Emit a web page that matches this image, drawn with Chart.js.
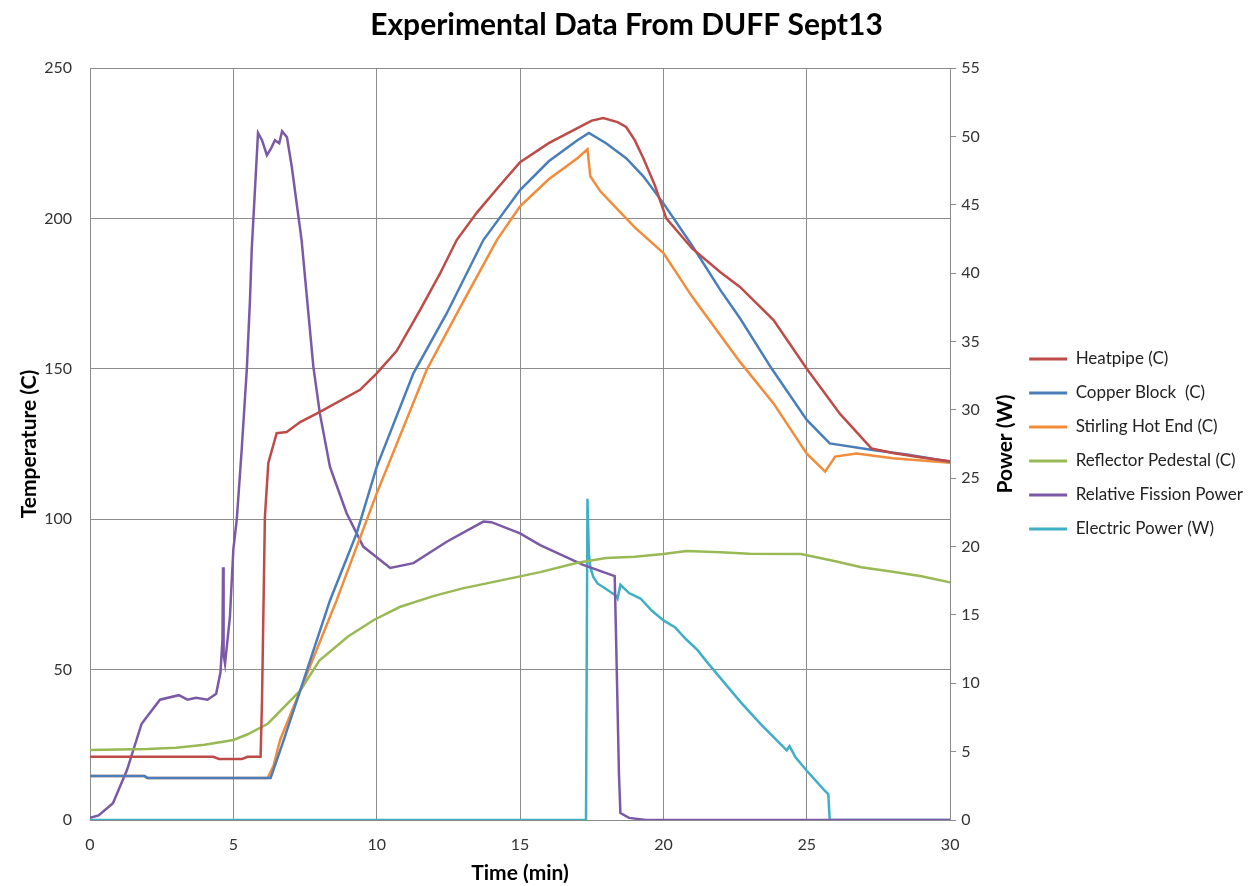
<!DOCTYPE html>
<html>
<head>
<meta charset="utf-8">
<title>Experimental Data From DUFF Sept13</title>
<script src="https://cdn.jsdelivr.net/npm/chart.js@4.4.1/dist/chart.umd.min.js"></script>
<style>
  html, body { margin: 0; padding: 0; background: #fff; }
</style>
</head>
<body>
<canvas id="chart" width="1253" height="886"></canvas>
<script>
// time axis (min) and values, one pair of arrays per series
const heatpipeT = [0, 2, 4.3, 4.5, 5.3, 5.5, 5.95, 6.0, 6.1, 6.22, 6.51, 6.86, 7.33, 8.02, 9.42, 10, 10.7, 11.51, 12.21, 12.79, 13.5, 14.3, 15, 16, 17, 17.5, 17.9, 18.4, 18.7, 19.0, 19.3, 19.7, 20.1, 21, 22, 22.67, 23.84, 25, 26.16, 27.26, 28, 29, 30];
const heatpipeC = [21, 21, 21, 20.3, 20.3, 21, 21, 40, 100.8, 118.7, 128.6, 129, 132.3, 135.7, 143, 148.5, 156, 169.5, 181.7, 192.8, 202, 211, 218.7, 225, 230, 232.5, 233.4, 232, 230.4, 226, 220, 211, 200, 190, 182, 177.2, 166.2, 150, 135, 123.5, 122, 120.5, 119.3];

const copperT = [0, 1.9, 2.0, 6.3, 6.7, 7.33, 8.37, 9.3, 10, 11.28, 12.44, 13.72, 15, 16, 17, 17.4, 18, 18.7, 19.3, 20, 21, 22, 22.67, 23.78, 25, 25.8, 27.3, 28.5, 30];
const copperC = [14.6, 14.6, 14, 14, 25, 43, 73, 95.3, 117.4, 148.5, 168.4, 192.8, 209.4, 219, 226, 228.4, 225, 220, 214, 205, 191, 176, 166.8, 150, 133, 125.2, 123, 121.5, 119.1];

const stirlingT = [0, 1.9, 2.0, 6.2, 6.4, 6.63, 7.33, 8.6, 10, 11.74, 13, 14.19, 15, 16, 17, 17.35, 17.45, 17.8, 18.5, 19, 20, 21, 22, 22.67, 23.84, 25, 25.64, 25.99, 26.74, 28, 30];
const stirlingC = [14.6, 14.6, 14, 14, 18, 26.6, 43, 73, 108.6, 149.6, 172, 192.8, 204, 213, 220, 223, 214, 209, 202, 197, 188.5, 174, 161, 152.3, 138.5, 121.8, 115.8, 120.8, 121.8, 120.3, 118.8];

const pedestalT = [0, 2, 3, 4, 5, 5.5, 6.2, 7.33, 8, 9, 9.9, 10.8, 12, 13, 14, 15, 15.7, 17, 18, 19, 20, 20.8, 22, 23, 24.8, 26, 26.9, 28, 29, 30];
const pedestalC = [23.3, 23.6, 24, 25, 26.6, 28.5, 32, 43, 53, 61, 66.5, 70.8, 74.5, 77, 79, 81, 82.4, 85.5, 87.1, 87.5, 88.4, 89.4, 89, 88.5, 88.4, 86, 84, 82.5, 81, 79];

const fissionT = [0, 0.3, 0.8, 1.29, 1.8, 2.44, 3.1, 3.4, 3.7, 4.1, 4.4, 4.55, 4.62, 4.64, 4.66, 4.71, 4.88, 5.0, 5.12, 5.29, 5.47, 5.58, 5.64, 5.86, 6.0, 6.17, 6.3, 6.45, 6.6, 6.7, 6.87, 7.04, 7.38, 7.79, 8.02, 8.37, 8.95, 9.53, 10.47, 11.28, 12.44, 13.72, 14, 15, 15.7, 17.2, 18.3, 18.35, 18.45, 18.5, 18.8, 19.4, 30];
const fissionRel = [0.7, 1.5, 5.6, 16.6, 32, 40, 41.5, 40, 40.6, 40, 42, 49, 60, 84, 55, 52, 67.5, 90, 100, 123, 150, 173, 189.5, 228.4, 226, 221, 223, 226, 225, 229, 227, 217, 192.8, 150.7, 135, 117.4, 102, 90.9, 83.8, 85.4, 92.5, 99.2, 99, 95.3, 91.4, 84.8, 81.1, 60, 15, 2.3, 0.7, 0, 0];

const electricT = [0, 17.3, 17.35, 17.4, 17.45, 17.55, 17.7, 18.0, 18.35, 18.4, 18.5, 18.8, 19.2, 19.6, 20, 20.4, 20.8, 21.2, 21.5, 22.1, 22.7, 23.4, 24.3, 24.4, 24.6, 25, 25.6, 25.75, 25.8, 30];
const electricW = [0, 0, 23.5, 19.5, 18.5, 17.8, 17.3, 16.9, 16.4, 16.2, 17.2, 16.6, 16.2, 15.3, 14.6, 14.1, 13.2, 12.4, 11.6, 10.1, 8.6, 7.0, 5.1, 5.4, 4.6, 3.6, 2.2, 1.9, 0, 0];

const pts = (xs, ys) => xs.map((x, i) => ({ x, y: ys[i] }));

const FONT = 'Lato';
const GRID = '#8c8c8c';
const TICK = '#333';

const line = (label, xs, ys, color, axis) => ({
  label,
  data: pts(xs, ys),
  borderColor: color,
  backgroundColor: color,
  borderWidth: 2.5,
  pointRadius: 0,
  tension: 0,
  yAxisID: axis
});

// the right axis title reads bottom-to-top in the reference, so draw it here
const rightTitle = {
  id: 'rightTitle',
  afterDraw(chart) {
    const s = chart.scales.y2;
    const c = chart.ctx;
    c.save();
    c.translate(s.left + 55, (s.top + s.bottom) / 2);
    c.rotate(-Math.PI / 2);
    c.font = `bold 21px ${FONT}`;
    c.fillStyle = '#000';
    c.textAlign = 'center';
    c.textBaseline = 'middle';
    c.fillText('Power (W)', 0, 0);
    c.restore();
  }
};

const ctx = document.getElementById('chart').getContext('2d');

// eslint-disable-next-line no-undef
new Chart(ctx, {
  type: 'line',
  data: {
    datasets: [
      line('Heatpipe (C)', heatpipeT, heatpipeC, '#BE4B48', 'y'),
      line('Copper Block  (C)', copperT, copperC, '#4A7EBB', 'y'),
      line('Stirling Hot End (C)', stirlingT, stirlingC, '#F28C3A', 'y'),
      line('Reflector Pedestal (C)', pedestalT, pedestalC, '#98B954', 'y'),
      line('Relative Fission Power', fissionT, fissionRel, '#7A5AA6', 'y'),
      line('Electric Power (W)', electricT, electricW, '#3FAFC6', 'y2')
    ]
  },
  options: {
    responsive: false,
    animation: false,
    layout: { padding: 0 },
    plugins: {
      title: {
        display: true,
        text: 'Experimental Data From DUFF Sept13',
        color: '#000',
        font: { family: FONT, size: 30, weight: 'bold' },
        padding: { top: 7, bottom: 25 }
      },
      legend: {
        position: 'right',
        fullSize: false,
        maxWidth: 241,
        labels: {
          color: '#222',
          font: { family: FONT, size: 17 },
          boxWidth: 38,
          boxHeight: 3,
          padding: 17,
          generateLabels: (chart) =>
            Chart.defaults.plugins.legend.labels.generateLabels(chart)
              .map(l => Object.assign(l, { lineWidth: 0 }))
        }
      },
      tooltip: { enabled: false }
    },
    scales: {
      x: {
        type: 'linear',
        min: 0,
        max: 30,
        ticks: { stepSize: 5, color: TICK, font: { family: FONT, size: 16 }, padding: 15 },
        grid: { color: GRID, drawTicks: false },
        border: { color: GRID },
        title: {
          display: true,
          text: 'Time (min)',
          color: '#000',
          font: { family: FONT, size: 21, weight: 'bold' },
          padding: 0
        },
        afterFit: (s) => { s.height = 66; }
      },
      y: {
        min: 0,
        max: 250,
        ticks: { stepSize: 50, color: TICK, font: { family: FONT, size: 16 }, padding: 18 },
        grid: { color: GRID, drawTicks: false },
        border: { color: GRID },
        title: {
          display: true,
          text: 'Temperature (C)',
          color: '#000',
          font: { family: FONT, size: 21, weight: 'bold' },
          padding: { top: 17, bottom: 0 }
        },
        afterFit: (s) => { s.width = 90; }
      },
      y2: {
        position: 'right',
        min: 0,
        max: 55,
        ticks: { stepSize: 5, color: TICK, font: { family: FONT, size: 16 }, padding: 5 },
        grid: { drawOnChartArea: false, color: GRID, tickLength: 6 },
        border: { color: GRID },
        afterFit: (s) => { s.width = 62; }
      }
    }
  },
  plugins: [rightTitle]
});
</script>
</body>
</html>
